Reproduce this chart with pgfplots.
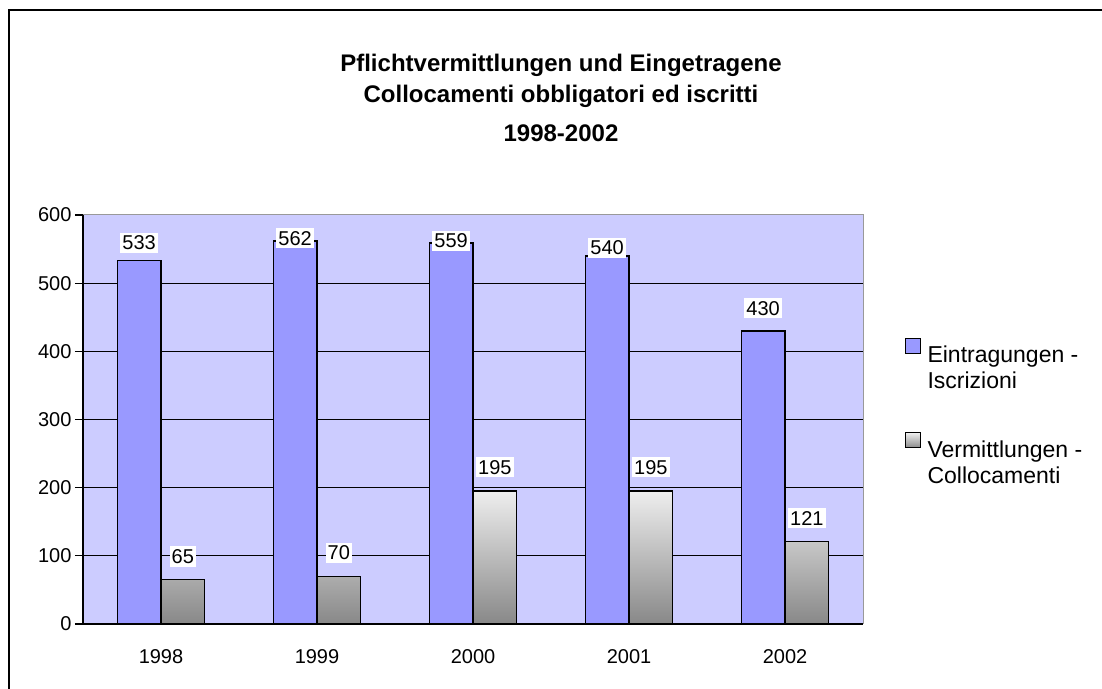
\documentclass[border=0pt]{standalone}
\usepackage{pgfplots}
\usepackage{pgfplotstable}
\pgfplotsset{compat=1.18}
\usepackage{fontspec}
\setmainfont{Liberation Sans}
\definecolor{bgblue}{HTML}{CCCCFF}
\definecolor{barblue}{HTML}{9999FF}
\definecolor{gtop}{HTML}{EEEEEE}
\definecolor{gbot}{HTML}{888888}
\pgfplotstableread{
x v ly
0 533 559
1 562 566
2 559 562
3 540 552
4 430 463
}\blueT
\pgfplotstableread{
x v ly
0 65 99
1 70 104
2 195 230
3 195 230
4 121 155
}\grayT
\pgfplotsset{
  sqlegend/.style={legend image code/.code={\draw[##1, line width=1bp] (0bp,15bp) rectangle (15bp,30bp);}},
}
\begin{document}
\begin{tikzpicture}[x=1bp,y=1bp]
\path[use as bounding box] (-83,-65) rectangle (1019,624);
\draw[line width=2.5bp] (-74,-70) -- (-74,614) -- (1030,614);
\node[anchor=base, font=\bfseries\fontsize{24bp}{28bp}\selectfont] at (478,552) {Pflichtvermittlungen und Eingetragene};
\node[anchor=base, font=\bfseries\fontsize{24bp}{28bp}\selectfont] at (478,521) {Collocamenti obbligatori ed iscritti};
\node[anchor=base, font=\bfseries\fontsize{24bp}{28bp}\selectfont] at (478,482) {1998-2002};
\begin{axis}[
  at={(0,0)}, anchor=south west, scale only axis,
  width=780bp, height=409bp,
  xmin=-0.5, xmax=4.5, ymin=0, ymax=600,
  axis lines*=left,
  axis line style={black, line width=1.3bp},
  axis background/.style={fill=bgblue, draw=gray!80, line width=1bp},
  xtick={0,...,4}, xticklabels={1998,1999,2000,2001,2002},
  xtick style={draw=none},
  minor xtick={-0.5,0.5,...,4.5},
  minor x tick style={black, line width=1.3bp},
  minor tick length=7bp,
  ytick={100,200,...,500},
  extra y ticks={0,600},
  extra y tick style={grid=none},
  ymajorgrids,
  grid style={black, line width=1.3bp},
  major tick length=8bp,
  tick align=outside,
  y tick style={black, line width=1.3bp},
  /pgf/number format/assume math mode=true,
  tick label style={font=\fontsize{20bp}{24bp}\selectfont},
  xticklabel style={yshift=-14bp},
  legend style={at={(1.053,0.70)}, anchor=north west, draw=none, fill=none, inner sep=0pt,
    row sep=40bp, column sep=5bp, cells={anchor=west, align=left},
    font=\fontsize{23bp}{26bp}\selectfont},
]
\addplot[ybar, bar width=0.28, bar shift=-0.14, fill=barblue, draw=black, line width=1.3bp, sqlegend]
  table[x=x, y=v]{\blueT};
\addlegendentry{{Eintragungen -\\Iscrizioni}}
\addplot[ybar, bar width=0.28, bar shift=0.14, top color=gtop, bottom color=gbot, draw=black, line width=1.3bp, sqlegend]
  table[x=x, y=v]{\grayT};
\addlegendentry{{Vermittlungen -\\Collocamenti}}
\addplot[forget plot, only marks, mark=*, mark options={draw=none, fill=none}, mark size=0,
  nodes near coords, point meta=explicit symbolic,
  nodes near coords style={fill=white, anchor=center, inner xsep=2bp, inner ysep=3bp, text=black,
    font=\fontsize{20bp}{24bp}\selectfont}]
  table[x expr=\thisrow{x}-0.14, y=ly, meta=v]{\blueT};
\addplot[forget plot, only marks, mark=*, mark options={draw=none, fill=none}, mark size=0,
  nodes near coords, point meta=explicit symbolic,
  nodes near coords style={fill=white, anchor=center, inner xsep=2bp, inner ysep=3bp, text=black,
    font=\fontsize{20bp}{24bp}\selectfont}]
  table[x expr=\thisrow{x}+0.14, y=ly, meta=v]{\grayT};
\end{axis}
\end{tikzpicture}
\end{document}
